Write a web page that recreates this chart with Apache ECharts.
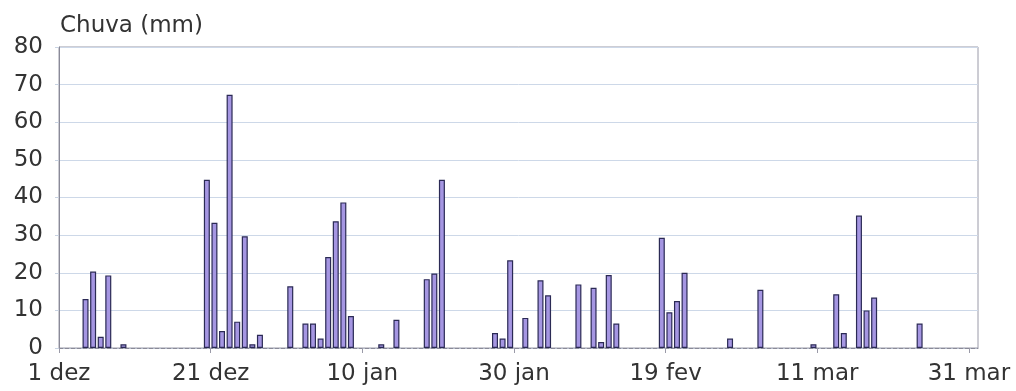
<!DOCTYPE html>
<html>
<head>
<meta charset="utf-8">
<script src="https://cdn.jsdelivr.net/npm/echarts@6/dist/echarts.min.js"></script>
<style>
html,body{margin:0;padding:0;background:#fff;}
#chart{width:1016px;height:391px;}
</style>
</head>
<body>
<div id="chart"></div>
<script>
// Rain days (dates) and daily rainfall (mm)
const rainDates = [
  '2008-12-04','2008-12-05','2008-12-06','2008-12-07','2008-12-09',
  '2008-12-20','2008-12-21','2008-12-22','2008-12-23','2008-12-24','2008-12-25','2008-12-26','2008-12-27',
  '2008-12-31','2009-01-02','2009-01-03','2009-01-04','2009-01-05','2009-01-06','2009-01-07','2009-01-08',
  '2009-01-12','2009-01-14','2009-01-18','2009-01-19','2009-01-20',
  '2009-01-27','2009-01-28','2009-01-29','2009-01-31','2009-02-02','2009-02-03',
  '2009-02-07','2009-02-09','2009-02-10','2009-02-11','2009-02-12',
  '2009-02-18','2009-02-19','2009-02-20','2009-02-21','2009-02-27',
  '2009-03-03','2009-03-10','2009-03-13','2009-03-14','2009-03-16','2009-03-17','2009-03-18','2009-03-24'
];
const rainMm = [
  13, 20.3, 3, 19.3, 1,
  44.7, 33.3, 4.5, 67.3, 7, 29.7, 1, 3.5,
  16.4, 6.5, 6.5, 2.5, 24.2, 33.7, 38.7, 8.5,
  1, 7.5, 18.3, 19.8, 44.7,
  4, 2.5, 23.3, 8, 18, 14,
  16.9, 16, 1.6, 19.4, 6.5,
  29.3, 9.5, 12.5, 20, 2.5,
  15.5, 1, 14.3, 4, 35.2, 10, 13.4, 6.5
];
const startDate = '2008-12-01';
const xTickLabels = ['1 dez', '21 dez', '10 jan', '30 jan', '19 fev', '11 mar', '31 mar'];
const yTitle = 'Chuva (mm)';

const DAY = 86400000;
const t0 = Date.parse(startDate + 'T00:00:00Z');
const seriesData = rainDates.map((d, i) => {
  const off = Math.round((Date.parse(d + 'T00:00:00Z') - t0) / DAY);
  return [off + 0.5, rainMm[i]];
});

const FONT = 'DejaVu Sans';
const chart = echarts.init(document.getElementById('chart'), null, {renderer: 'canvas'});
chart.setOption({
  animation: false,
  backgroundColor: '#ffffff',
  title: {
    text: yTitle,
    left: 55,
    top: 10,
    textStyle: {fontFamily: FONT, fontSize: 23, fontWeight: 'normal', color: '#333333'}
  },
  grid: {
    left: 59, right: 38, top: 47, bottom: 43,
    show: true, borderColor: '#9a9aa8', borderWidth: 1, backgroundColor: 'transparent'
  },
  xAxis: {
    type: 'value',
    min: 0, max: 121.2, interval: 20,
    axisLine: {show: true, lineStyle: {color: '#8a8a98', width: 1, type: 'dashed'}},
    axisTick: {show: true, length: 5, lineStyle: {color: '#9a9aa8'}},
    splitLine: {show: false},
    axisLabel: {
      showMaxLabel: false,
      margin: 15,
      fontFamily: FONT, fontSize: 23, color: '#333333',
      formatter: v => {
        const k = Math.round(v / 20);
        return (Math.abs(v - k * 20) < 1e-6 && xTickLabels[k]) ? xTickLabels[k] : '';
      }
    }
  },
  yAxis: {
    type: 'value',
    min: 0, max: 80, interval: 10,
    axisLine: {show: true, lineStyle: {color: '#8a8a98', width: 1}},
    axisTick: {show: true, length: 4, lineStyle: {color: '#c9d3e2'}},
    splitLine: {show: true, lineStyle: {color: '#cdd8e8', width: 1}},
    axisLabel: {margin: 16, fontFamily: FONT, fontSize: 23, color: '#333333'}
  },
  series: [{
    type: 'bar',
    data: seriesData,
    barWidth: 6,
    itemStyle: {color: '#a596e2', borderColor: '#2b2a55', borderWidth: 1.2}
  }]
});
</script>
</body>
</html>
